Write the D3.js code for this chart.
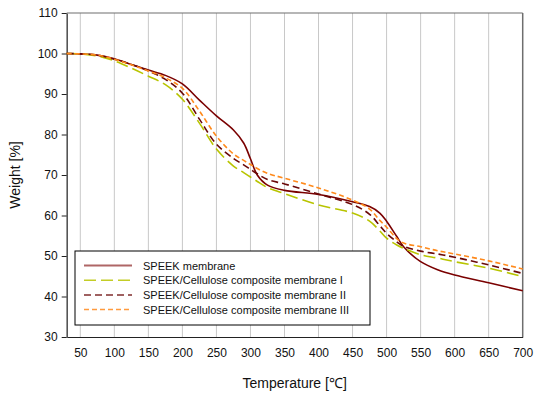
<!DOCTYPE html>
<html>
<head>
<meta charset="utf-8">
<script src="https://cdn.jsdelivr.net/npm/d3@7"></script>
<style>
  body { margin: 0; background: #fff; }
  svg { font-family: Arial, "Liberation Sans", sans-serif; }
</style>
</head>
<body>
<div id="chart"></div>
<script>
// Data (temperature in C, weight in %)
const temps = [30, 50, 75, 100, 125, 150, 175, 200, 225, 250, 275, 290, 300, 310, 325, 350, 400, 450, 475, 490, 500, 515, 525, 550, 575, 600, 650, 700];
const speek = [100, 99.9, 99.6, 98.7, 97.3, 95.9, 94.6, 92.5, 88.5, 84.6, 81.1, 77.9, 74.0, 70.0, 67.5, 66.2, 65.2, 63.4, 62.2, 60.6, 58.6, 54.8, 52.3, 48.6, 46.6, 45.3, 43.4, 41.4];
const compI = [100, 99.9, 99.4, 98.2, 96.4, 94.4, 92.3, 88.7, 82.8, 76.4, 72.2, 70.6, 69.5, 68.4, 66.9, 65.4, 62.6, 60.6, 58.6, 56.2, 54.4, 52.7, 51.9, 50.3, 49.5, 48.6, 47.0, 44.9];
const compII = [100, 99.9, 99.6, 98.6, 97.3, 95.7, 93.6, 90.2, 83.8, 77.6, 74.1, 72.5, 71.4, 70.3, 68.9, 67.8, 65.3, 62.7, 60.3, 57.5, 55.6, 53.5, 52.4, 51.2, 50.5, 49.7, 47.8, 45.7];
const compIII = [100, 99.9, 99.6, 98.6, 97.2, 95.7, 94.0, 91.4, 85.8, 79.6, 75.2, 73.6, 72.6, 71.6, 70.4, 69.2, 66.8, 63.8, 61.6, 58.8, 57.1, 54.3, 53.2, 52.3, 51.3, 50.5, 48.8, 46.8];

const seriesNames = [
  "SPEEK membrane",
  "SPEEK/Cellulose composite membrane I",
  "SPEEK/Cellulose composite membrane II",
  "SPEEK/Cellulose composite membrane III"
];
const xTicks = [50, 100, 150, 200, 250, 300, 350, 400, 450, 500, 550, 600, 650, 700];
const yTicks = [30, 40, 50, 60, 70, 80, 90, 100, 110];

const series = [
  { name: seriesNames[0], values: speek, color: "#7a0000", dash: null },
  { name: seriesNames[1], values: compI, color: "#b8c400", dash: "12,5" },
  { name: seriesNames[2], values: compII, color: "#6a0808", dash: "7,4" },
  { name: seriesNames[3], values: compIII, color: "#ff8a1c", dash: "5,3" }
];

const width = 534, height = 394;
const margin = { top: 13, right: 11.3, bottom: 57, left: 66.7 };
const innerW = width - margin.left - margin.right;
const innerH = height - margin.top - margin.bottom;

const svg = d3.select("#chart").append("svg")
  .attr("width", width)
  .attr("height", height);

const g = svg.append("g")
  .attr("transform", `translate(${margin.left},${margin.top})`);

const x = d3.scaleLinear().domain([30, 700]).range([0, innerW]);
const y = d3.scaleLinear().domain([30, 110]).range([innerH, 0]);

// vertical gridlines
g.selectAll(".grid")
  .data(xTicks.filter((t) => t < 700))
  .enter()
  .append("line")
  .attr("class", "grid")
  .attr("x1", (d) => x(d)).attr("x2", (d) => x(d))
  .attr("y1", 0).attr("y2", innerH)
  .attr("stroke", "#c8c8c8")
  .attr("stroke-width", 1);

// top and right frame
g.append("line").attr("x1", 0).attr("x2", innerW).attr("y1", 0).attr("y2", 0)
  .attr("stroke", "#6e6e6e").attr("stroke-width", 1.2);
g.append("line").attr("x1", innerW).attr("x2", innerW).attr("y1", 0).attr("y2", innerH)
  .attr("stroke", "#6e6e6e").attr("stroke-width", 1.5);

// axes
const xAxis = g.append("g")
  .attr("transform", `translate(0,${innerH})`)
  .call(d3.axisBottom(x).tickValues(xTicks).tickSize(0).tickSizeOuter(0).tickPadding(11));
const yAxis = g.append("g")
  .call(d3.axisLeft(y).tickValues(yTicks).tickSize(5).tickSizeOuter(0).tickPadding(4));

[xAxis, yAxis].forEach((a) => {
  a.selectAll("text").attr("font-size", 12).attr("fill", "#111")
    .attr("font-family", "Arial, 'Liberation Sans', sans-serif");
  a.select(".domain").attr("stroke", "#222").attr("stroke-width", 1.2);
  a.selectAll(".tick line").attr("stroke", "#222");
});
yAxis.select(".domain").attr("stroke", "#555").attr("stroke-width", 1.6);

// curves
const line = d3.line()
  .x((d) => x(d[0]))
  .y((d) => y(d[1]))
  .curve(d3.curveCatmullRom.alpha(0.5));

series.forEach((s) => {
  g.append("path")
    .datum(temps.map((t, i) => [t, s.values[i]]))
    .attr("d", line)
    .attr("fill", "none")
    .attr("stroke", s.color)
    .attr("stroke-width", 1.6)
    .attr("stroke-dasharray", s.dash);
});

// legend
const legend = svg.append("g").attr("transform", "translate(75,251)");
legend.append("rect")
  .attr("width", 295).attr("height", 74)
  .attr("fill", "#fff").attr("stroke", "#000").attr("stroke-width", 1);

series.forEach((s, i) => {
  const ly = 14.5 + i * 14.7;
  legend.append("line")
    .attr("x1", 9).attr("x2", 57)
    .attr("y1", ly).attr("y2", ly)
    .attr("stroke", s.color)
    .attr("stroke-opacity", i === 0 ? 0.6 : 0.85)
    .attr("stroke-width", i === 0 ? 2 : 1.5)
    .attr("stroke-dasharray", s.dash);
  legend.append("text")
    .attr("x", 68).attr("y", ly + 4)
    .attr("font-size", 11)
    .attr("fill", "#111")
    .text(s.name);
});

// axis titles
svg.append("text")
  .attr("x", margin.left + innerW / 2).attr("y", 388)
  .attr("text-anchor", "middle")
  .attr("font-size", 14)
  .attr("fill", "#111")
  .text("Temperature [℃]");

svg.append("text")
  .attr("transform", `translate(20,${margin.top + innerH / 2}) rotate(-90)`)
  .attr("text-anchor", "middle")
  .attr("font-size", 14)
  .attr("fill", "#111")
  .text("Weight [%]");
</script>
</body>
</html>
